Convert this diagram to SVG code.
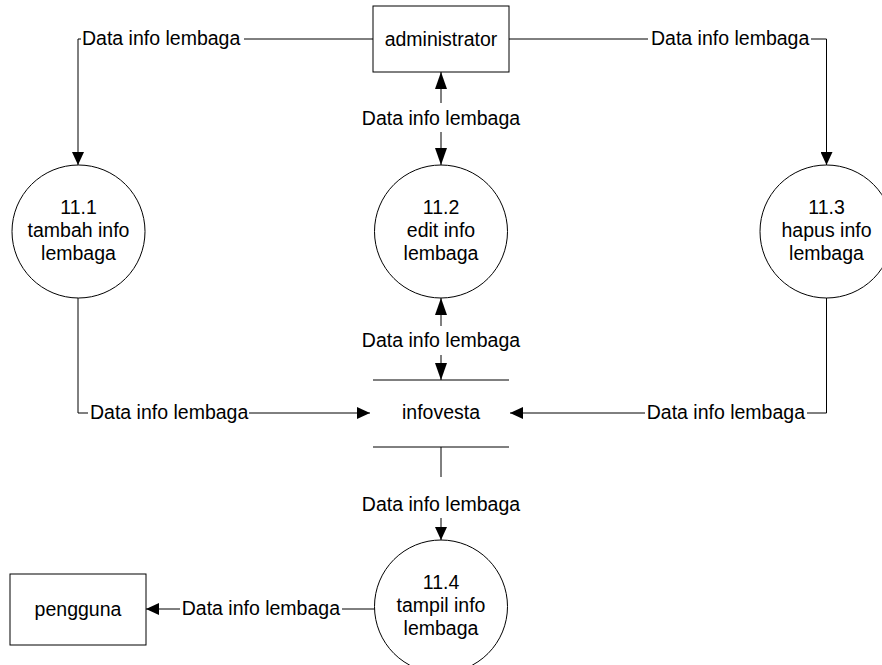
<svg xmlns="http://www.w3.org/2000/svg" width="882" height="665" viewBox="0 0 882 665">
<style>
text{font-family:"Liberation Sans",Arial,sans-serif;font-size:19.5px;fill:#000}
.c{text-anchor:middle}
.e{text-anchor:end}
.n{fill:#fff;stroke:#000;stroke-width:1}
.l{fill:none;stroke:#000;stroke-width:1}
</style>
<defs>
<marker id="a" markerUnits="userSpaceOnUse" markerWidth="13" markerHeight="12" refX="13" refY="6" orient="auto"><path d="M0,0 L13,6 L0,12 z" fill="#000"/></marker>
<marker id="b" markerUnits="userSpaceOnUse" markerWidth="17" markerHeight="12" refX="17" refY="6" orient="auto"><path d="M0,0 L17,6 L0,12 z" fill="#000"/></marker>
</defs>
<rect width="882" height="665" fill="#fff"/>
<g id="connectors">
<path class="l" d="M373,39 H244"/>
<path class="l" d="M81,39 H78 V165" marker-end="url(#a)"/>
<text x="82" y="45">Data info lembaga</text>
<path class="l" d="M509,39 H648"/>
<path class="l" d="M811,39 H826.5 V165" marker-end="url(#a)"/>
<text x="651" y="45">Data info lembaga</text>
<path class="l" d="M441,103 V72" marker-end="url(#b)"/>
<path class="l" d="M441,132 V165" marker-end="url(#b)"/>
<text class="c" x="441" y="125">Data info lembaga</text>
<path class="l" d="M441,326 V298" marker-end="url(#b)"/>
<path class="l" d="M441,355 V380" marker-end="url(#b)"/>
<text class="c" x="441" y="347">Data info lembaga</text>
<path class="l" d="M78,298 V413 H88"/>
<path class="l" d="M249,413 H370" marker-end="url(#a)"/>
<text x="90" y="419">Data info lembaga</text>
<path class="l" d="M826.5,298 V413 H807"/>
<path class="l" d="M645,413 H510" marker-end="url(#a)"/>
<text class="e" x="805" y="419">Data info lembaga</text>
<path class="l" d="M441,447 V477"/>
<path class="l" d="M441,518 V540" marker-end="url(#a)"/>
<text class="c" x="441" y="511">Data info lembaga</text>
<path class="l" d="M375,609 H342"/>
<path class="l" d="M180,609 H146" marker-end="url(#a)"/>
<text class="e" x="340" y="615">Data info lembaga</text>
</g>
<g id="administrator">
<rect class="n" x="373" y="6" width="136" height="66"/>
<text class="c" x="441" y="46">administrator</text>
</g>
<g id="p11_1">
<circle class="n" cx="78.5" cy="231.5" r="66.5"/>
<text class="c" x="78.5" y="214">11.1</text>
<text class="c" x="78.5" y="237">tambah info</text>
<text class="c" x="78.5" y="260">lembaga</text>
</g>
<g id="p11_2">
<circle class="n" cx="441" cy="231.5" r="66.5"/>
<text class="c" x="441" y="214">11.2</text>
<text class="c" x="441" y="237">edit info</text>
<text class="c" x="441" y="260">lembaga</text>
</g>
<g id="p11_3">
<circle class="n" cx="826.5" cy="231.5" r="66.5"/>
<text class="c" x="826.5" y="214">11.3</text>
<text class="c" x="826.5" y="237">hapus info</text>
<text class="c" x="826.5" y="260">lembaga</text>
</g>
<g id="infovesta">
<path class="l" d="M373,380 H509 M373,447 H509"/>
<text class="c" x="441" y="419">infovesta</text>
</g>
<g id="p11_4">
<circle class="n" cx="441" cy="606.5" r="66.5"/>
<text class="c" x="441" y="589">11.4</text>
<text class="c" x="441" y="612">tampil info</text>
<text class="c" x="441" y="635">lembaga</text>
</g>
<g id="pengguna">
<rect class="n" x="10" y="574" width="136" height="71"/>
<text class="c" x="78" y="616">pengguna</text>
</g>
</svg>
